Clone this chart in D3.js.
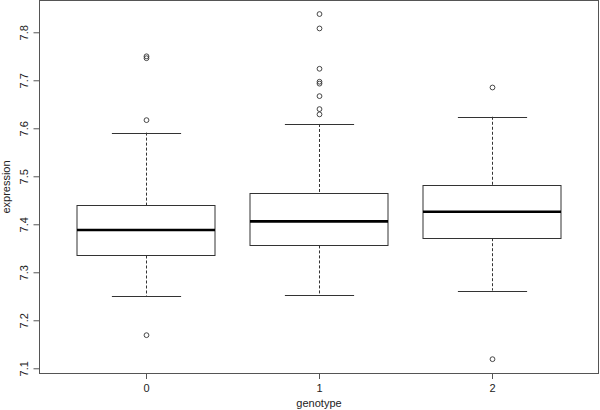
<!DOCTYPE html>
<html>
<head>
<meta charset="utf-8">
<script src="https://cdn.jsdelivr.net/npm/d3@7"></script>
<style>
  html, body { margin: 0; padding: 0; background: #fff; }
  svg { display: block; }
  text { font-family: "Liberation Sans", Arial, Helvetica, sans-serif; fill: #222; }
</style>
</head>
<body>
<svg id="chart" width="600" height="410"></svg>
<script>
// ---- data ----
const categories = ["0", "1", "2"];
const lowerWhisker = [7.250, 7.253, 7.262];
const q1 = [7.335, 7.356, 7.371];
const median = [7.388, 7.406, 7.426];
const q3 = [7.440, 7.465, 7.482];
const upperWhisker = [7.591, 7.609, 7.624];
const outliers0 = [7.750, 7.746, 7.617, 7.169];
const outliers1 = [7.838, 7.808, 7.724, 7.697, 7.693, 7.667, 7.640, 7.629];
const outliers2 = [7.685, 7.119];
const outliers = [outliers0, outliers1, outliers2];
const yTicks = [7.1, 7.2, 7.3, 7.4, 7.5, 7.6, 7.7, 7.8];
const xTitle = "genotype";
const yTitle = "expression";

// ---- layout ----
const svg = d3.select("#chart");
const frame = { left: 39.5, right: 598.5, top: 0.5, bottom: 373.5 };

const y = d3.scaleLinear().domain([7.0902, 7.8652]).range([373, 1]);
const x = d3.scaleLinear().domain([0, categories.length - 1]).range([146, 492]);
const step = x(1) - x(0);
const boxW = step * 0.8;
const capW = boxW * 0.5;

// frame
svg.append("rect")
  .attr("x", frame.left).attr("y", frame.top)
  .attr("width", frame.right - frame.left).attr("height", frame.bottom - frame.top)
  .attr("fill", "none").attr("stroke", "#555").attr("stroke-width", 1);

// y axis
const yAxis = d3.axisLeft(y).tickValues(yTicks).tickSize(6).tickPadding(0).tickFormat(d3.format(".1f"));
const gy = svg.append("g").attr("transform", `translate(${frame.left},0)`).call(yAxis);
gy.select(".domain").remove();
gy.selectAll(".tick line").attr("stroke", "#555");
gy.selectAll(".tick text")
  .attr("x", 0).attr("dy", null)
  .attr("transform", "translate(-16,0) rotate(-90)")
  .attr("text-anchor", "middle")
  .attr("dominant-baseline", "central")
  .style("font-size", "11px")
  .style("font-family", "'Liberation Sans', Arial, sans-serif")
  .attr("fill", "#222");

// x axis
const xAxis = d3.axisBottom(x).tickValues(d3.range(categories.length)).tickSize(6).tickPadding(5)
  .tickFormat(i => categories[i]);
const gx = svg.append("g").attr("transform", `translate(0,${frame.bottom - 0.5})`).call(xAxis);
gx.select(".domain").remove();
gx.selectAll(".tick line").attr("stroke", "#555");
gx.selectAll(".tick text")
  .style("font-size", "11px")
  .style("font-family", "'Liberation Sans', Arial, sans-serif")
  .attr("fill", "#222");

// axis titles
svg.append("text").attr("x", 319).attr("y", 407)
  .attr("text-anchor", "middle").style("font-size", "11px").text(xTitle);
svg.append("text").attr("transform", "translate(10,187) rotate(-90)")
  .attr("text-anchor", "middle").style("font-size", "11px").text(yTitle);

// boxes
const g = svg.append("g");
categories.forEach((c, i) => {
  const cx = Math.round(x(i)) + 0.5;
  // whiskers (dashed)
  g.append("line").attr("x1", cx).attr("x2", cx)
    .attr("y1", y(upperWhisker[i])).attr("y2", y(q3[i]))
    .attr("stroke", "#333").attr("stroke-dasharray", "3,2");
  g.append("line").attr("x1", cx).attr("x2", cx)
    .attr("y1", y(q1[i])).attr("y2", y(lowerWhisker[i]))
    .attr("stroke", "#333").attr("stroke-dasharray", "3,2");
  // caps
  [upperWhisker[i], lowerWhisker[i]].forEach(v => {
    g.append("line").attr("x1", cx - capW / 2).attr("x2", cx + capW / 2)
      .attr("y1", Math.round(y(v)) + 0.5).attr("y2", Math.round(y(v)) + 0.5)
      .attr("stroke", "#333");
  });
  // box
  const top = Math.round(y(q3[i])) + 0.5, bot = Math.round(y(q1[i])) + 0.5;
  g.append("rect").attr("x", Math.round(cx - boxW / 2)).attr("y", top)
    .attr("width", Math.round(boxW)).attr("height", bot - top)
    .attr("fill", "#fff").attr("stroke", "#333");
  // median
  g.append("line").attr("x1", Math.round(cx - boxW / 2)).attr("x2", Math.round(cx - boxW / 2) + Math.round(boxW))
    .attr("y1", y(median[i])).attr("y2", y(median[i]))
    .attr("stroke", "#000").attr("stroke-width", 2.6);
  // outliers
  g.selectAll(null).data(outliers[i]).enter().append("circle")
    .attr("cx", cx).attr("cy", d => y(d)).attr("r", 2.4)
    .attr("fill", "none").attr("stroke", "#333").attr("stroke-width", 0.9);
});
</script>
</body>
</html>
